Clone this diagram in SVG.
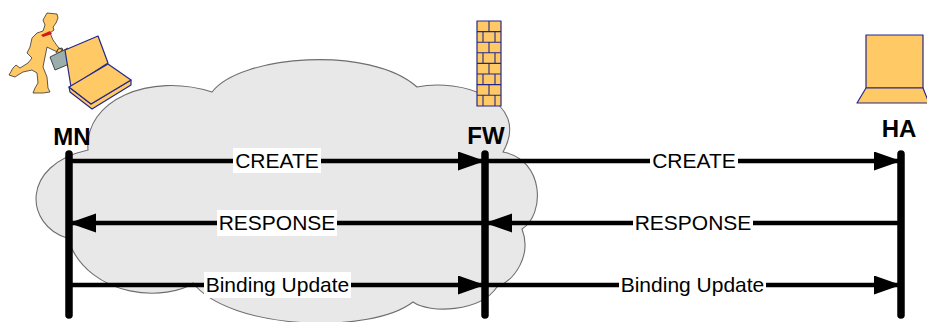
<svg xmlns="http://www.w3.org/2000/svg" width="927" height="322" viewBox="0 0 927 322">
  <defs>
    <style>
      .cloud { fill: #e8e8e8; stroke: #6e6e6e; stroke-width: 1.1; }
      .dev { fill: #ffc966; stroke: #22288a; stroke-width: 1.2; stroke-linejoin: round; }
      .brick { fill: none; stroke: #22288a; stroke-width: 1.1; }
      .msg { stroke: #000; stroke-width: 4.5; fill: none; }
      .life { stroke: #000; stroke-width: 7.5; stroke-linecap: round; }
      .lblbg { fill: #fff; }
      .lbl { font-family: "Liberation Sans", Arial, sans-serif; font-size: 21px; fill: #000; text-anchor: middle; }
      .name { font-family: "Liberation Sans", Arial, sans-serif; font-size: 24px; font-weight: bold; fill: #000; text-anchor: middle; }
    </style>
    <marker id="head" markerUnits="userSpaceOnUse" markerWidth="28" markerHeight="20" refX="27" refY="9.5" orient="auto">
      <path d="M0,0 L27,9.5 L0,19 z" fill="#000"/>
    </marker>
  </defs>

  <!-- network cloud behind the mobile node and firewall -->
  <path class="cloud" d="M88,150 C84,100 150,72 212,92 C240,55 370,45 417,87 C460,78 532,100 503,152 C545,160 545,215 522,229 C532,255 515,280 497,287 C480,312 430,314 413,302 C370,335 230,330 193,283 C170,300 90,302 67,238 C25,225 20,165 88,150 Z"/>

  <!-- mobile node: runner with briefcase and laptop -->
  <g id="mn-icon">
    <path d="M47,13 L57,14 L58,18 L56,23 L53,27 L54,30 L50,33 L53,40 L58,47 L62,50 L60,53 L53,50 L47,47 L45,57 L43,67 L47,77 L48,88 L50,92 L43,93 L33,93 L35,88 L38,83 L37,73 L32,70 L23,72 L18,75 L15,77 L9,75 L13,68 L16,65 L20,68 L28,63 L32,58 L27,53 L30,47 L32,38 L37,33 L43,31 L45,25 L43,20 Z" fill="#ffc966" stroke="#333" stroke-width="0.8" stroke-linejoin="round"/>
    <path d="M41,35 L50,31 L52,34 L43,37 Z" fill="#d01818"/>
    <path d="M50,57 L68,48 L74,62 L55,70 Z" fill="#9aaeae" stroke="#333" stroke-width="0.9"/>
    <path d="M56,53 L58,49 L62,48 L63,51" fill="none" stroke="#333" stroke-width="1"/>
    <path class="dev" d="M65,50 L98,36 L108,63 L71,87 Z"/>
    <path class="dev" d="M69,87 L91,104 L131,80 L131,85 L92,109 L70,92 Z"/>
    <path class="dev" d="M69,87 L108,64 L131,80 L91,104 Z"/>
  </g>

  <!-- firewall -->
  <g id="fw-icon">
    <rect class="dev" x="477" y="21" width="24" height="85"/>
    <path class="brick" d="M477,31.6 H501 M477,42.2 H501 M477,52.8 H501 M477,63.4 H501 M477,74 H501 M477,84.6 H501 M477,95.2 H501
      M489,21 V31.6 M483,31.6 V42.2 M495,31.6 V42.2 M489,42.2 V52.8 M483,52.8 V63.4 M495,52.8 V63.4 M489,63.4 V74 M483,74 V84.6 M495,74 V84.6 M489,84.6 V95.2 M483,95.2 V106 M495,95.2 V106"/>
  </g>

  <!-- home agent computer -->
  <g id="ha-icon">
    <rect class="dev" x="866" y="35" width="57" height="53"/>
    <path class="dev" d="M866,88 L923,88 L929,103 L857,103 Z"/>
  </g>

  <!-- node names -->
  <g id="mn"><text class="name" x="72" y="145">MN</text></g>
  <g id="fw"><text class="name" x="486" y="144">FW</text></g>
  <g id="ha"><text class="name" x="899" y="137">HA</text></g>

  <!-- messages -->
  <g id="connectors">
    <line class="msg" x1="69" y1="161" x2="485" y2="161" marker-end="url(#head)"/>
    <line class="msg" x1="485" y1="161" x2="901" y2="161" marker-end="url(#head)"/>
    <line class="msg" x1="485" y1="223" x2="69" y2="223" marker-end="url(#head)"/>
    <line class="msg" x1="901" y1="223" x2="485" y2="223" marker-end="url(#head)"/>
    <line class="msg" x1="69" y1="285" x2="485" y2="285" marker-end="url(#head)"/>
    <line class="msg" x1="485" y1="285" x2="901" y2="285" marker-end="url(#head)"/>

    <rect class="lblbg" x="233" y="148" width="88" height="25"/>
    <text class="lbl" x="277" y="168">CREATE</text>
    <rect class="lblbg" x="650" y="148" width="88" height="25"/>
    <text class="lbl" x="694" y="168">CREATE</text>
    <rect class="lblbg" x="217" y="210" width="120" height="26"/>
    <text class="lbl" x="277" y="230">RESPONSE</text>
    <rect class="lblbg" x="633" y="210" width="120" height="26"/>
    <text class="lbl" x="693" y="230">RESPONSE</text>
    <rect class="lblbg" x="204" y="272" width="147" height="26"/>
    <text class="lbl" x="277.5" y="292">Binding Update</text>
    <rect class="lblbg" x="619" y="272" width="147" height="26"/>
    <text class="lbl" x="692.5" y="292">Binding Update</text>
  </g>

  <!-- lifelines -->
  <g id="lifelines">
    <line class="life" x1="69" y1="154" x2="69" y2="315"/>
    <line class="life" x1="485" y1="154" x2="485" y2="315"/>
    <line class="life" x1="901" y1="154" x2="901" y2="315"/>
  </g>
</svg>
